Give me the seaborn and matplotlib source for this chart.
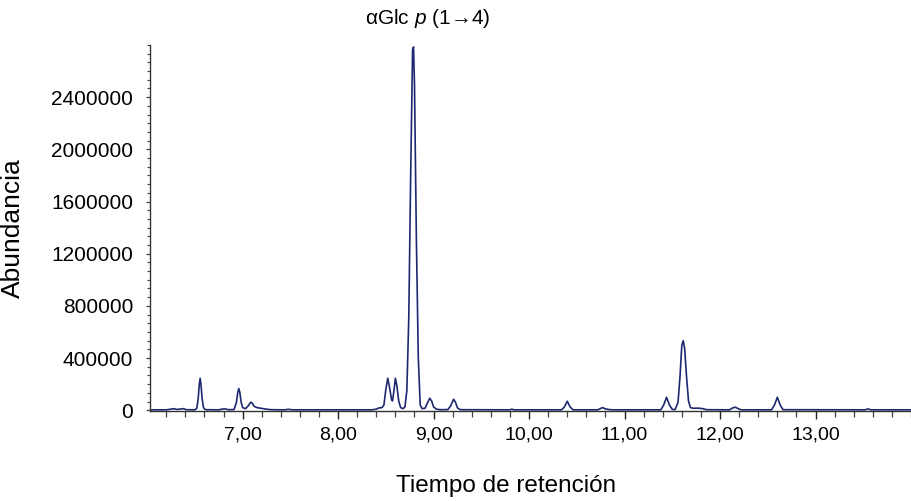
import numpy as np
import pandas as pd
import matplotlib
matplotlib.use("Agg")
import matplotlib.pyplot as plt
from matplotlib.ticker import AutoMinorLocator
import seaborn as sns

# chromatogram trace (minutes, abundance)
tiempo = [6.03, 6.20, 6.25, 6.28, 6.31, 6.35, 6.38, 6.41, 6.50, 6.52,
          6.535, 6.545, 6.555, 6.565, 6.575, 6.59, 6.61, 6.75, 6.79, 6.82,
          6.85, 6.91, 6.935, 6.95, 6.96, 6.97, 6.985, 7.00, 7.03, 7.06,
          7.085, 7.10, 7.12, 7.15, 7.20, 7.25, 7.30, 7.44, 7.48, 7.52,
          8.35, 8.40, 8.43, 8.46, 8.48, 8.50, 8.52, 8.54, 8.56, 8.57,
          8.585, 8.60, 8.615, 8.635, 8.655, 8.68, 8.70, 8.72, 8.74, 8.76,
          8.78, 8.79, 8.80, 8.82, 8.84, 8.86, 8.88, 8.91, 8.935, 8.96,
          8.98, 9.00, 9.03, 9.07, 9.15, 9.18, 9.21, 9.23, 9.25, 9.28,
          9.80, 9.82, 9.84, 10.34, 10.37, 10.40, 10.43, 10.46, 10.72, 10.75,
          10.77, 10.80, 10.84, 10.88, 11.38, 11.41, 11.44, 11.47, 11.50, 11.53,
          11.56, 11.58, 11.60, 11.615, 11.63, 11.65, 11.67, 11.69, 11.72, 11.77,
          11.82, 11.86, 12.10, 12.13, 12.16, 12.19, 12.22, 12.54, 12.57, 12.60,
          12.63, 12.66, 13.52, 13.55, 13.58, 14.00]
abundancia = [3000, 3000, 8000, 12000, 6000, 9000, 12000, 4000, 3000, 15000,
              90000, 190000, 245000, 190000, 95000, 20000, 4000, 3000, 9000, 10000,
              4000, 5000, 60000, 140000, 166000, 140000, 60000, 20000, 12000, 35000,
              62000, 55000, 30000, 20000, 14000, 8000, 4000, 3000, 7000, 3000,
              3000, 8000, 18000, 20000, 40000, 160000, 245000, 170000, 80000, 72000,
              150000, 245000, 190000, 70000, 20000, 12000, 25000, 150000, 700000, 1800000,
              2760000, 2785000, 2500000, 1300000, 400000, 40000, 12000, 15000, 55000, 92000,
              70000, 25000, 8000, 4000, 5000, 35000, 84000, 60000, 18000, 4000,
              3000, 8000, 3000, 3000, 25000, 69000, 25000, 3000, 3000, 14000,
              20000, 10000, 5000, 3000, 3000, 40000, 99000, 40000, 6000, 5000,
              60000, 250000, 500000, 533000, 470000, 250000, 70000, 20000, 15000, 16000,
              12000, 4000, 3000, 17000, 23000, 12000, 3000, 3000, 40000, 99000,
              40000, 4000, 3000, 10000, 3000, 3000]

x_ticks = [7, 8, 9, 10, 11, 12, 13]
x_tick_labels = ["7,00", "8,00", "9,00", "10,00", "11,00", "12,00", "13,00"]
y_ticks = [0, 400000, 800000, 1200000, 1600000, 2000000, 2400000]
y_tick_labels = ["0", "400000", "800000", "1200000", "1600000", "2000000", "2400000"]

sns.set_style("ticks")
plt.rcParams["font.family"] = ["Liberation Sans", "DejaVu Sans"]
plt.rcParams["mathtext.fontset"] = "custom"
plt.rcParams["mathtext.rm"] = "Liberation Sans"
plt.rcParams["mathtext.it"] = "Liberation Sans:italic"
plt.rcParams["text.color"] = "black"
plt.rcParams["axes.labelcolor"] = "black"
plt.rcParams["xtick.labelcolor"] = "black"
plt.rcParams["ytick.labelcolor"] = "black"

df = pd.DataFrame({"tiempo": tiempo, "abundancia": abundancia})

fig = plt.figure(figsize=(9.11, 5.01), dpi=100)
ax = fig.add_axes([150 / 911, 1 - 411 / 501, 761 / 911, 366 / 501])

sns.lineplot(data=df, x="tiempo", y="abundancia", ax=ax, color="#1e2870",
             linewidth=1.2, sort=False)

ax.set_xlim(6.03, 14.0)
ax.set_ylim(-6000, 2.8e6)
ax.set_xticks(x_ticks)
ax.set_xticklabels(x_tick_labels, fontsize=14)
ax.set_yticks(y_ticks)
ax.set_yticklabels(y_tick_labels, fontsize=15)
ax.xaxis.set_minor_locator(AutoMinorLocator(5))
ax.yaxis.set_minor_locator(AutoMinorLocator(6))
ax.tick_params(axis="x", which="major", length=6, width=1, pad=5, color="#222222")
ax.tick_params(axis="x", which="minor", length=4, width=0.9, color="#444444")
ax.tick_params(axis="y", which="major", length=3, width=0.9, pad=9, color="#444444")
ax.tick_params(axis="y", which="minor", length=2, width=0.8, color="#444444")

for s in ["top", "right"]:
    ax.spines[s].set_visible(False)
for s in ["left", "bottom"]:
    ax.spines[s].set_linewidth(1.0)
    ax.spines[s].set_color("#333333")

ax.set_xlabel("Tiempo de retención", fontsize=17.5)
ax.set_ylabel("Abundancia", fontsize=19)
ax.xaxis.set_label_coords((506 - 150) / 761, -(475 - 411) / 366)
ax.yaxis.set_label_coords(-(150 - 25) / 761, 0.5)

fig.text(428 / 911, 1 - 18 / 501, r"αGlc $\mathit{p}$ (1→4)", fontsize=15,
         ha="center", va="center")

fig.savefig("out.png", dpi=100)
